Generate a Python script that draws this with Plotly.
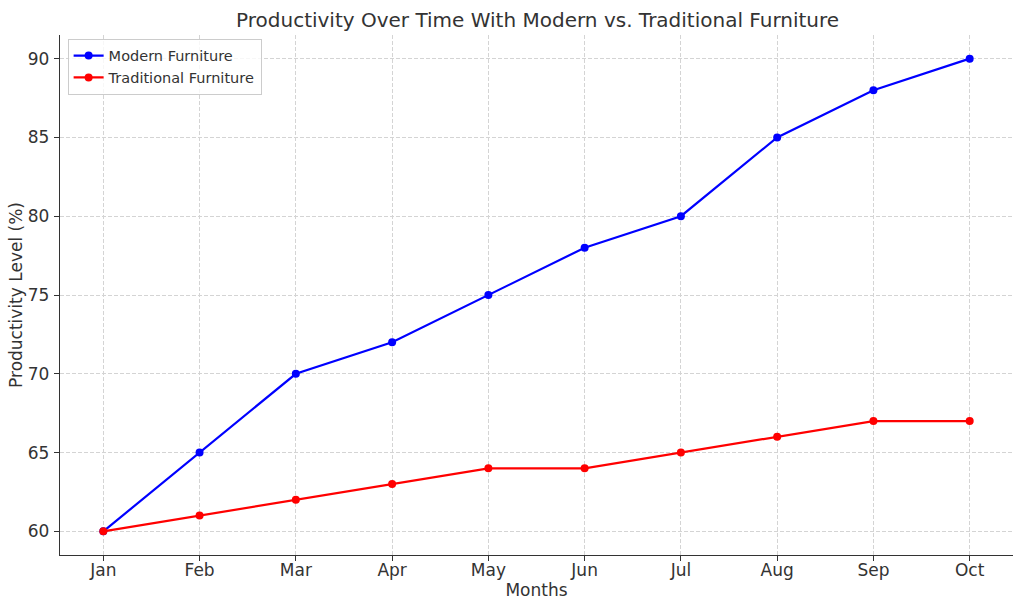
import plotly.graph_objects as go

months = ["Jan", "Feb", "Mar", "Apr", "May", "Jun", "Jul", "Aug", "Sep", "Oct"]
modern = [60, 65, 70, 72, 75, 78, 80, 85, 88, 90]
traditional = [60, 61, 62, 63, 64, 64, 65, 66, 67, 67]
y_ticks = [60, 65, 70, 75, 80, 85, 90]

x_idx = list(range(len(months)))

fig = go.Figure()
fig.add_trace(go.Scatter(x=x_idx, y=modern, mode="lines+markers", name="Modern Furniture",
                         line=dict(color="blue", width=2.2), marker=dict(color="blue", size=8)))
fig.add_trace(go.Scatter(x=x_idx, y=traditional, mode="lines+markers", name="Traditional Furniture",
                         line=dict(color="red", width=2.2), marker=dict(color="red", size=8)))

font_family = "DejaVu Sans"
grid = dict(showgrid=True, gridcolor="#d4d4d4", griddash="4px,2px", gridwidth=1)
fig.update_layout(
    width=1024, height=611,
    margin=dict(l=60, r=11, t=35, b=56),
    paper_bgcolor="white", plot_bgcolor="white",
    font=dict(family=font_family, color="#333333", size=15),
    title=dict(text="Productivity Over Time With Modern vs. Traditional Furniture",
               x=0.525, xanchor="center", y=0.968, yanchor="middle",
               font=dict(size=20, color="#333333")),
    showlegend=True,
    legend=dict(x=0.008, y=0.993, xanchor="left", yanchor="top",
                bgcolor="rgba(255,255,255,0.8)", bordercolor="#cccccc", borderwidth=1,
                font=dict(size=14.5, color="#333333"), tracegroupgap=0),
    xaxis=dict(tickmode="array", tickvals=x_idx, ticktext=months, range=[-0.45, 9.45],
               showline=True, linecolor="#333333", linewidth=1.3, mirror=False,
               ticks="outside", ticklen=5, tickcolor="#333333", ticklabelstandoff=-6,
               zeroline=False, title=dict(text="Months", font=dict(size=17), standoff=4),
               tickfont=dict(size=17), **grid),
    yaxis=dict(tickmode="array", tickvals=y_ticks, range=[58.5, 91.5],
               showline=True, linecolor="#333333", linewidth=1.3, mirror=False,
               ticks="outside", ticklen=5, tickcolor="#333333", ticklabelstandoff=1,
               zeroline=False, title=dict(text="Productivity Level (%)", font=dict(size=17), standoff=0),
               tickfont=dict(size=17), **grid),
)

fig.write_html("out.html")
